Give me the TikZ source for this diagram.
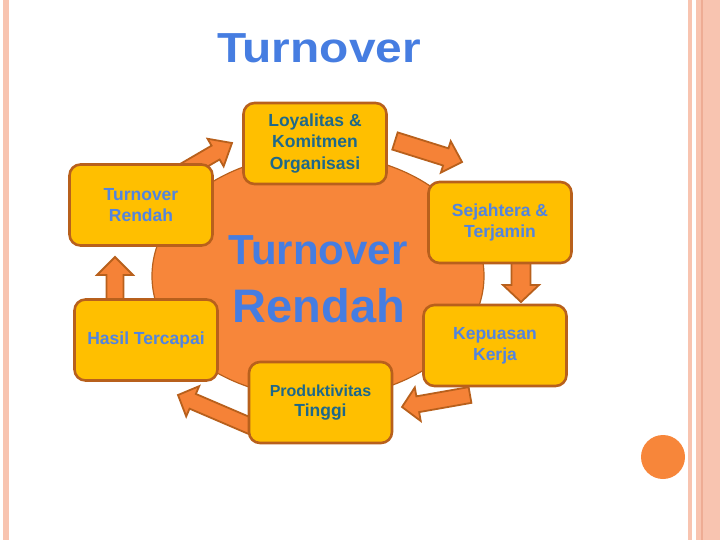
\documentclass[tikz,border=0pt]{standalone}
\usepackage{fontspec}
\setmainfont{Liberation Sans}
\usetikzlibrary{calc,shapes.geometric,backgrounds}
\definecolor{boxc}{RGB}{255,191,0}
\definecolor{edgec}{RGB}{184,96,28}
\definecolor{blobc}{RGB}{247,134,58}
\definecolor{arrc}{RGB}{245,130,55}
\definecolor{pinkc}{RGB}{248,196,176}
\definecolor{pinkd}{RGB}{238,172,148}
\definecolor{bluec}{RGB}{70,125,225}
\definecolor{lbluec}{RGB}{82,132,224}
\definecolor{tealc}{RGB}{30,104,138}
\tikzset{
  stage/.style={rectangle,rounded corners=11pt,draw=edgec,line width=2.6pt,fill=boxc,minimum width=143pt,minimum height=81pt,align=center,inner sep=2pt},
  bluetxt/.style={text=lbluec,font=\fontsize{17.5}{21}\selectfont\bfseries},
  tealtxt/.style={text=tealc,font=\fontsize{17.5}{21.5}\selectfont\bfseries},
  bigtxt/.style={text=bluec,anchor=base,inner sep=0pt},
  barrow/.style={fill=arrc,draw=edgec,line width=1.8pt,line join=miter},
  blob/.style={ellipse,fill=blobc,draw=edgec,line width=1.2pt,minimum width=332pt,minimum height=244pt},
}
% block arrow: tail, tip, shaft half width, head half width, head length
\newcommand{\blockarr}[5]{%
  \coordinate (hb) at ($(#2)!#5!(#1)$);
  \draw[barrow] ($(#1)!#3!90:(#2)$) -- ($(hb)!#3!90:(#2)$) -- ($(hb)!#4!90:(#2)$) -- (#2)
    -- ($(hb)!#4!-90:(#2)$) -- ($(hb)!#3!-90:(#2)$) -- ($(#1)!#3!-90:(#2)$) -- cycle;}

\begin{document}
\begin{tikzpicture}[x=1pt,y=-1pt]
  \useasboundingbox (0,0) rectangle (720,540);
  % side bars
  \fill[pinkc] (3,0) rectangle (9,540);
  \fill[pinkc] (688,0) rectangle (692,540);
  \fill[pinkc] (696,0) rectangle (720,540);
  \draw[pinkd,line width=1.2pt] (702,0) -- (702,540);
  % title
  \node[bigtxt,font=\fontsize{42}{42}\selectfont\bfseries,xscale=1.14] (title) at (319,63) {Turnover};
  % cycle boxes
  \node[stage,tealtxt] (loyal) at (315,143.5) {Loyalitas \&\\Komitmen\\Organisasi};
  \node[stage,bluetxt] (trend) at (141,205) {Turnover\\Rendah};
  \node[stage,bluetxt] (sejah) at (500,222.5) {Sejahtera \&\\Terjamin};
  \node[stage,bluetxt] (puas) at (495,345.5) {Kepuasan\\Kerja};
  \node[stage,bluetxt] (hasil) at (146,340) {Hasil Tercapai};
  \node[stage,tealtxt,font=\fontsize{16}{20}\selectfont\bfseries] (prod) at (320.5,402.5) {Produktivitas\\{\fontsize{17.5}{20}\selectfont Tinggi}};
  % arrow ends
  \coordinate (t1) at (172,178); \coordinate (h1) at (232,143);
  \coordinate (t2) at (395,141); \coordinate (h2) at (462,162);
  \coordinate (t3) at (521,258); \coordinate (h3) at (521,302);
  \coordinate (t4) at (470,395); \coordinate (h4) at (402,407);
  \coordinate (t5) at (255,428); \coordinate (h5) at (178,395);
  \coordinate (t6) at (115,302); \coordinate (h6) at (115,257);
  \begin{scope}[on background layer]
    \node[blob] (core) at (318,276) {};
    \blockarr{t1}{h1}{8pt}{16pt}{19pt}
    \blockarr{t2}{h2}{9pt}{16.5pt}{17pt}
    \blockarr{t3}{h3}{9.5pt}{18pt}{17pt}
    \blockarr{t4}{h4}{8pt}{17pt}{16pt}
    \blockarr{t5}{h5}{8pt}{16.5pt}{16pt}
    \blockarr{t6}{h6}{8.5pt}{18pt}{18pt}
  \end{scope}
  % centre text
  \node[bigtxt,font=\fontsize{42}{42}\selectfont\bfseries] (midtop) at (318,264) {Turnover};
  \node[bigtxt,font=\fontsize{47}{47}\selectfont\bfseries] (midbot) at (319,322) {Rendah};
  % corner dot
  \node[circle,fill=blobc,minimum size=44pt,inner sep=0pt] (dot) at (663,457) {};
\end{tikzpicture}
\end{document}
